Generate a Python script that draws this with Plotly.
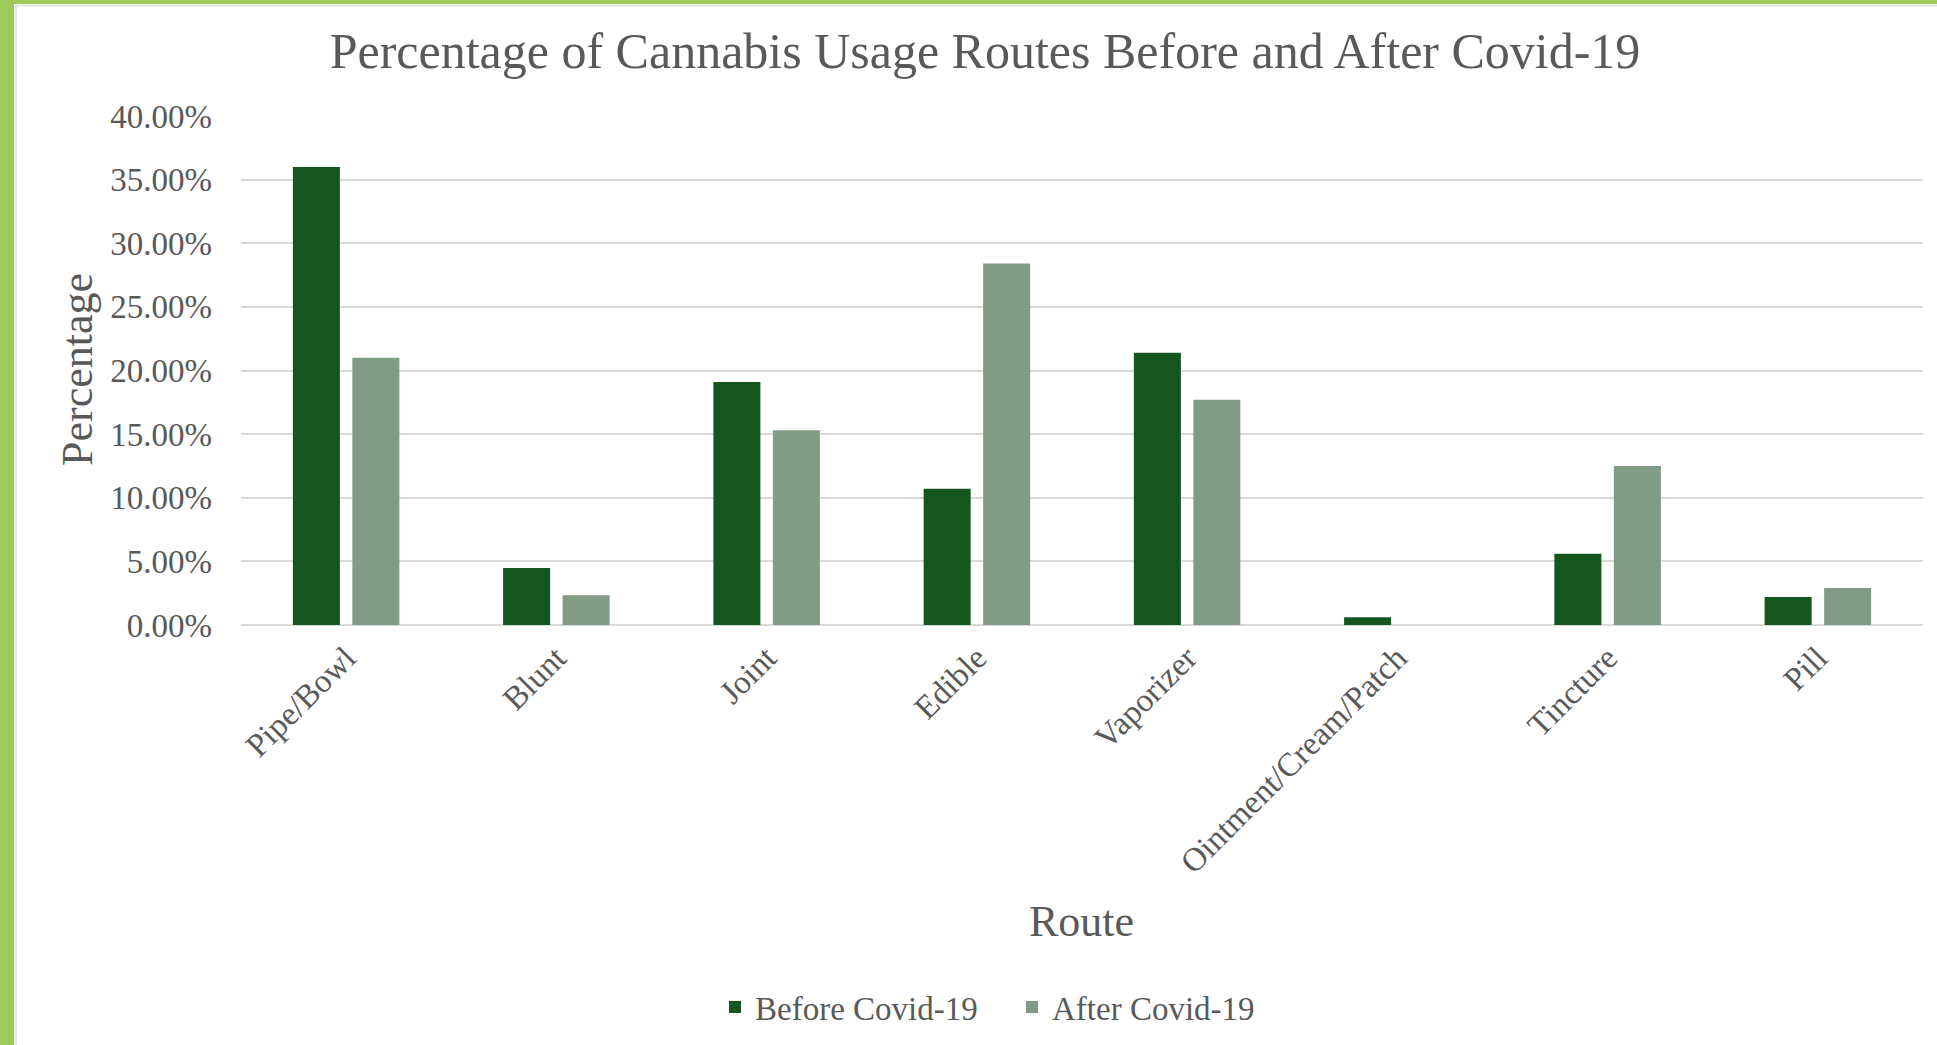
import plotly.graph_objects as go

# ---- data ----
routes = ["Pipe/Bowl", "Blunt", "Joint", "Edible", "Vaporizer",
          "Ointment/Cream/Patch", "Tincture", "Pill"]
before_covid = [0.360, 0.0447, 0.191, 0.107, 0.214, 0.006, 0.056, 0.022]
after_covid = [0.210, 0.0233, 0.153, 0.284, 0.177, 0.0, 0.125, 0.029]
series_names = ["Before Covid-19", "After Covid-19"]
y_ticks = [0, 0.05, 0.10, 0.15, 0.20, 0.25, 0.30, 0.35, 0.40]

# ---- layout constants (pixels) ----
W, H = 1937, 1045
PL, PR, PT, PB = 241, 1923, 116, 625
FONT = "Liberation Serif, Times New Roman, serif"
TXT = "#595959"
C_BEFORE = "#14561E"
C_AFTER = "#829B85"
GREEN = "#9BCB5B"


def px_x(px):
    return (px - PL) / (PR - PL)


def px_y(py):
    return (PB - py) / (PB - PT)


fig = go.Figure()
fig.add_trace(go.Bar(x=routes, y=before_covid, name=series_names[0],
                     marker=dict(color=C_BEFORE, line=dict(width=0))))
fig.add_trace(go.Bar(x=routes, y=after_covid, name=series_names[1],
                     marker=dict(color=C_AFTER, line=dict(width=0))))

fig.update_layout(
    width=W, height=H,
    margin=dict(l=PL, r=W - PR, t=PT, b=H - PB, autoexpand=False),
    paper_bgcolor="white", plot_bgcolor="white",
    barmode="group", bargap=0.434, bargroupgap=0.21,
    font=dict(family=FONT, color=TXT, size=33),
    title=dict(text="Percentage of Cannabis Usage Routes Before and After Covid-19",
               xref="container", x=985 / W, xanchor="center",
               yref="container", y=1 - 50 / H, yanchor="middle",
               font=dict(family=FONT, size=50, color=TXT)),
    showlegend=True,
    legend=dict(orientation="h", xref="paper", x=px_x(715), xanchor="left",
                yref="container", y=1 - 1007 / H, yanchor="middle",
                font=dict(family=FONT, size=33, color=TXT),
                itemwidth=30, entrywidth=252, entrywidthmode="pixels",
                tracegroupgap=0, bgcolor="rgba(0,0,0,0)"),
    xaxis=dict(tickangle=-45, showgrid=False, showline=False, zeroline=False,
               ticks="", tickfont=dict(family=FONT, size=33, color=TXT),
               ticklabelstandoff=6),
    yaxis=dict(range=[0, 0.4], tickvals=y_ticks, tickformat=".2%",
               showgrid=True, gridcolor="#D9D9D9", gridwidth=2,
               zeroline=True, zerolinecolor="#D9D9D9", zerolinewidth=2,
               showline=False, ticks="",
               tickfont=dict(family=FONT, size=33, color=TXT),
               ticklabelstandoff=28),
    annotations=[
        dict(text="Percentage", xref="paper", yref="paper",
             x=px_x(77), y=px_y(370), xanchor="center", yanchor="middle",
             textangle=-90, showarrow=False,
             font=dict(family=FONT, size=44, color=TXT)),
        dict(text="Route", xref="paper", yref="paper",
             x=px_x(1081), y=px_y(921), xanchor="center", yanchor="middle",
             showarrow=False, font=dict(family=FONT, size=44, color=TXT)),
    ],
    shapes=[
        dict(type="rect", xref="paper", yref="paper",
             x0=px_x(0), x1=px_x(14), y0=px_y(H), y1=px_y(0),
             fillcolor=GREEN, line=dict(width=0), layer="above"),
        dict(type="rect", xref="paper", yref="paper",
             x0=px_x(0), x1=px_x(W), y0=px_y(4), y1=px_y(0),
             fillcolor=GREEN, line=dict(width=0), layer="above"),
        dict(type="line", xref="paper", yref="paper",
             x0=px_x(16), x1=px_x(16), y0=px_y(H), y1=px_y(5),
             line=dict(color="#E4E4E4", width=2)),
        dict(type="line", xref="paper", yref="paper",
             x0=px_x(15), x1=px_x(W), y0=px_y(5.5), y1=px_y(5.5),
             line=dict(color="#E4E4E4", width=2)),
    ],
)

fig.write_html("out.html")
